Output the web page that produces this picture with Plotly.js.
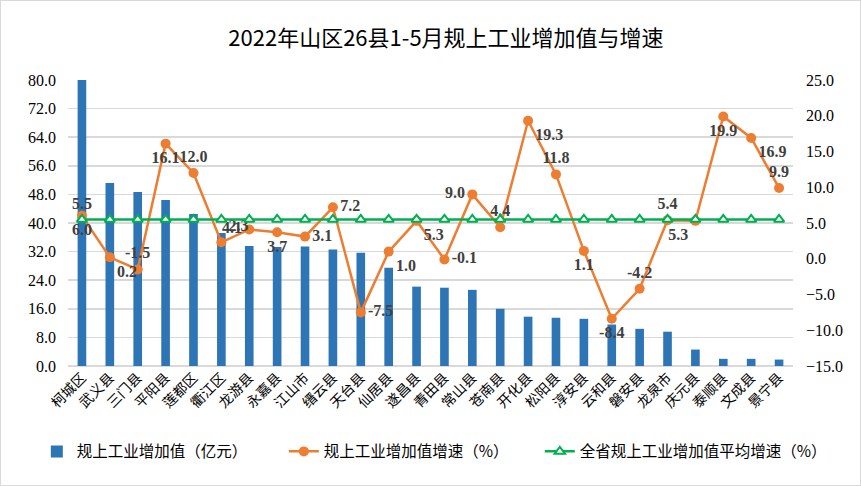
<!DOCTYPE html>
<html>
<head>
<meta charset="utf-8">
<script src="https://cdn.plot.ly/plotly-3.0.1.min.js"></script>
<style>
html,body{margin:0;padding:0;background:#fff;}
#chart{width:859px;height:484px;border:1px solid #d9d9d9;}
</style>
</head>
<body>
<div id="chart"></div>
<script>
const counties = ["柯城区","武义县","三门县","平阳县","莲都区","衢江区","龙游县","永嘉县","江山市","缙云县","天台县","仙居县","遂昌县","青田县","常山县","苍南县","开化县","松阳县","淳安县","云和县","磐安县","龙泉市","庆元县","泰顺县","文成县","景宁县"];
const addedValue = [80.0,51.2,48.7,46.4,42.5,37.2,33.6,33.3,33.4,32.6,31.7,27.5,22.2,21.9,21.3,16.0,13.8,13.5,13.2,11.6,10.4,9.6,4.6,2.0,2.0,1.8];
const growth = [6.0,0.2,-1.5,16.1,12.0,2.3,4.1,3.7,3.1,7.2,-7.5,1.0,5.3,-0.1,9.0,4.4,19.3,11.8,1.1,-8.4,-4.2,5.4,5.3,19.9,16.9,9.9];
const provinceAvg = [5.5,5.5,5.5,5.5,5.5,5.5,5.5,5.5,5.5,5.5,5.5,5.5,5.5,5.5,5.5,5.5,5.5,5.5,5.5,5.5,5.5,5.5,5.5,5.5,5.5,5.5];
const growthLabelPos = ["bottom center","bottom right","top center","bottom center","top center","top right","middle left","bottom center","middle right","middle right","middle right","bottom right","bottom right","middle right","middle left","top center","bottom right","top center","bottom center","bottom center","top center","top center","bottom left","bottom center","bottom right","top center"];

const labelFont = {family:"Liberation Serif", size:16, color:"#404040", weight:"bold"};
const avgText = provinceAvg.map((v,i)=> i===0 ? v.toFixed(1) : "");

const traces = [
  {type:"bar", x:counties, y:addedValue, name:"规上工业增加值（亿元）",
   marker:{color:"#2E75B6"}, yaxis:"y", legendwidth:202},
  {type:"scatter", mode:"lines+markers+text", x:counties, y:growth, yaxis:"y2",
   name:"规上工业增加值增速（%）", legendwidth:211,
   line:{color:"#ED7D31", width:2.5}, marker:{color:"#ED7D31", size:10},
   text:growth.map(v=>v.toFixed(1)), textposition:growthLabelPos, textfont:labelFont, cliponaxis:false},
  {type:"scatter", mode:"lines+markers+text", x:counties, y:provinceAvg, yaxis:"y2",
   name:"全省规上工业增加值平均增速（%）",
   line:{color:"#00B050", width:2.5},
   marker:{symbol:"triangle-up", size:9, color:"#ffffff", line:{color:"#00B050", width:2}},
   text:avgText, textposition:"top center", textfont:labelFont, cliponaxis:false}
];

const tickFont = {family:"Liberation Serif", size:16, color:"#000"};
const layout = {
  width:859, height:484,
  margin:{l:67, r:67, t:79, b:119},
  paper_bgcolor:"#fff", plot_bgcolor:"#fff",
  title:{text:"2022年山区26县1-5月规上工业增加值与增速", font:{family:"Noto Sans CJK SC", size:22, color:"#000"}, x:0.518, xanchor:"center", y:0.922, yanchor:"middle"},
  bargap:0.69,
  showlegend:true,
  legend:{orientation:"h", x:-0.043, xanchor:"left", y:-0.3, yanchor:"middle",
          font:{family:"Noto Sans CJK SC", size:15.5, color:"#000"}, traceorder:"normal"},
  xaxis:{type:"category", range:[-0.5,25.5], tickangle:-45, tickfont:{family:"Noto Sans CJK SC", size:14, color:"#000"},
         showgrid:false, showline:false, ticks:"", automargin:false},
  yaxis:{range:[0,80], dtick:8, tick0:0, tickformat:".1f", tickfont:tickFont,
         showgrid:true, gridcolor:"#d9d9d9", gridwidth:1.5, zeroline:true, zerolinecolor:"#d9d9d9", zerolinewidth:1.5,
         showline:false, ticks:"", ticklabelstandoff:11, automargin:false},
  yaxis2:{range:[-15,25], dtick:5, tick0:0, tickformat:".1f", tickfont:tickFont, overlaying:"y", side:"right",
          showgrid:false, zeroline:false, showline:false, ticks:"", ticklabelstandoff:12, automargin:false}
};

Plotly.newPlot("chart", traces, layout, {displayModeBar:false, staticPlot:true});
</script>
</body>
</html>
